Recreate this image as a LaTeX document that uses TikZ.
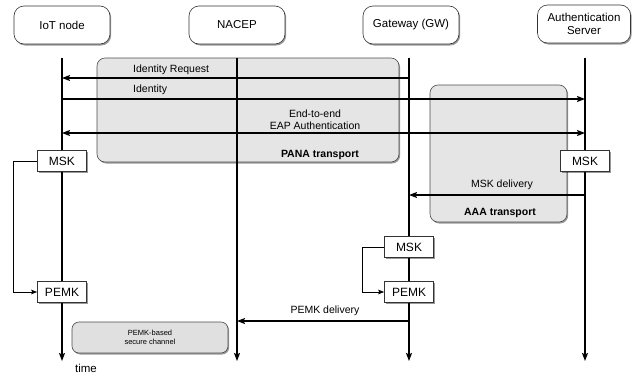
\documentclass[tikz,border=0pt]{standalone}
\usepackage{fontspec}
\setmainfont{Liberation Sans}
\usetikzlibrary{shadows,arrows.meta}
\begin{document}
\begin{tikzpicture}[x=1pt,y=-1pt,
  shad/.style={drop shadow={shadow xshift=1.2pt,shadow yshift=-1.5pt,fill=black,opacity=0.4}},
  actor/.style={draw=black!80, line width=0.6pt, rounded corners=10pt, fill=white, minimum width=96pt, minimum height=38pt, align=center, inner sep=1pt, font=\fontsize{11.5}{13}\selectfont, shad},
  keybox/.style={draw=black!80, line width=0.6pt, fill=white, minimum width=49pt, minimum height=21pt, inner sep=1pt, font=\fontsize{12}{13}\selectfont, shad},
  region/.style={draw=black!70, line width=0.6pt, rounded corners=8pt, fill=black!10, shad},
  lbl/.style={font=\fontsize{10.5}{12}\selectfont, inner sep=0pt},
  blbl/.style={font=\bfseries\fontsize{10.5}{12}\selectfont, inner sep=0pt},
  life/.style={line width=1.3pt, -{Stealth[length=8pt,width=6pt,inset=1.5pt]}},
  msg/.style={line width=1.3pt, -{Stealth[length=8pt,width=6pt,inset=1.5pt]}},
  dmsg/.style={line width=1.3pt, {Stealth[length=8pt,width=6pt,inset=1.5pt]}-{Stealth[length=8pt,width=6pt,inset=1.5pt]}},
  thin/.style={line width=0.8pt, -{Stealth[length=6pt,width=4.5pt,inset=1pt]}}]
\useasboundingbox (0,0) rectangle (632,375);
% actors
\node[actor] (iot) at (62,25) {IoT node};
\node[actor] (nacep) at (237,25) {NACEP};
\node[actor] (gw) at (411,25) {Gateway (GW)};
\node[actor, minimum width=93pt] (as) at (584,24) {Authentication\\Server};
% transport regions
\node[region, minimum width=302pt, minimum height=104pt] (pana) at (248,110) {};
\node[region, minimum width=137pt, minimum height=137pt] (aaa) at (498.5,153.5) {};
\node[blbl] (panal) at (320,155) {PANA transport};
\node[blbl] (aaal) at (500,213) {AAA transport};
% lifeline coordinates
\coordinate (iotT) at (62,58);  \coordinate (iotB) at (62,361);
\coordinate (naT) at (237,58);  \coordinate (naB) at (237,361);
\coordinate (gwT) at (409,58);  \coordinate (gwB) at (409,361);
\coordinate (asT) at (585,58);  \coordinate (asB) at (585,361);
\draw[life] (iotT) -- (iotB);
\draw[life] (naT) -- (naB);
\draw[life] (gwT) -- (gwB);
\draw[life] (asT) -- (asB);
% messages
\coordinate (ir1) at (409,78); \coordinate (ir2) at (62,78);
\draw[msg] (ir1) -- (ir2);
\node[lbl, anchor=west] (irl) at (133,70) {Identity Request};
\coordinate (id1) at (62,99); \coordinate (id2) at (585,99);
\draw[msg] (id1) -- (id2);
\node[lbl, anchor=west] (idl) at (133,90) {Identity};
\coordinate (eap1) at (62,133); \coordinate (eap2) at (585,133);
\draw[dmsg] (eap1) -- (eap2);
\node[lbl, align=center] (eapl) at (315,120) {End-to-end\\EAP Authentication};
% key boxes
\node[keybox] (msk1) at (62,161) {MSK};
\node[keybox] (msk2) at (585,161) {MSK};
\node[keybox] (msk3) at (409,247) {MSK};
\node[keybox] (pemk1) at (62,292) {PEMK};
\node[keybox] (pemk2) at (409,292) {PEMK};
% MSK delivery
\coordinate (md1) at (585,195); \coordinate (md2) at (409,195);
\draw[msg] (md1) -- (md2);
\node[lbl] (mdl) at (502,185) {MSK delivery};
% key derivation
\draw[thin] (msk1.west) -- (13,161) -- (13,292) -- (pemk1.west);
\draw[thin] (msk3.west) -- (362,247) -- (362,292) -- (pemk2.west);
% PEMK delivery
\coordinate (pd1) at (409,321); \coordinate (pd2) at (237,321);
\draw[msg] (pd1) -- (pd2);
\node[lbl] (pdl) at (325,311) {PEMK delivery};
% secure channel
\node[region, fill=black!12, rounded corners=7pt, minimum width=156pt, minimum height=31pt, align=center, font=\fontsize{7.5}{9}\selectfont] (sc) at (150,337.5) {PEMK-based\\secure channel};
\node[font=\fontsize{11.5}{13}\selectfont, inner sep=0pt] (time) at (86,368) {time};
\end{tikzpicture}
\end{document}
